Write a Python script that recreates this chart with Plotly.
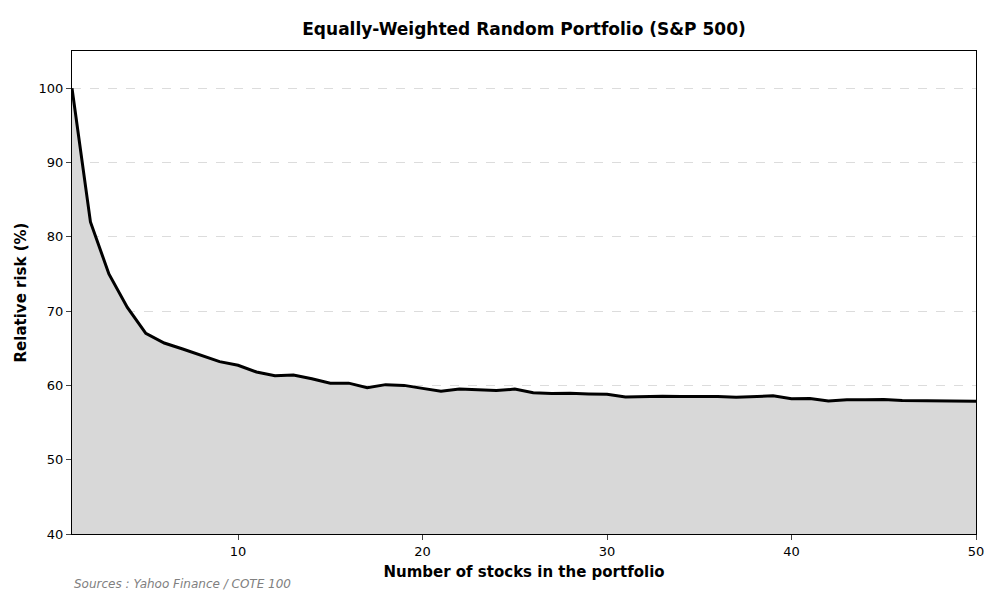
import plotly.graph_objects as go

n_stocks = list(range(1, 51))
relative_risk = [100, 82, 75, 70.5, 67, 65.7, 64.9, 64.1, 63.2, 62.7,
                 61.8, 61.3, 61.4, 60.9, 60.3, 60.3, 59.7, 60.1, 60.0, 59.6,
                 59.2, 59.5, 59.4, 59.3, 59.5, 59.0, 58.9, 58.95, 58.85, 58.8,
                 58.45, 58.55, 58.55, 58.5, 58.55, 58.5, 58.4, 58.5, 58.6, 58.2,
                 58.25, 57.9, 58.05, 58.05, 58.1, 57.95, 57.95, 57.9, 57.9, 57.85]

fig = go.Figure()
# grey band filled down to the bottom of the axis
fig.add_trace(go.Scatter(x=n_stocks, y=[40] * len(n_stocks), mode="lines",
                         line=dict(width=0), showlegend=False, hoverinfo="skip"))
fig.add_trace(go.Scatter(x=n_stocks, y=relative_risk, mode="lines",
                         line=dict(color="black", width=3),
                         fill="tonexty", fillcolor="#d8d8d8", showlegend=False))

fig.update_layout(
    width=1000, height=600,
    paper_bgcolor="white", plot_bgcolor="white",
    margin=dict(l=64, r=32, t=43, b=74),
    font=dict(family="DejaVu Sans", size=13, color="black"),
    title=dict(text="<b>Equally-Weighted Random Portfolio (S&P 500)</b>",
               x=0.516, xanchor="center", y=0.975, font=dict(size=17)),
    xaxis=dict(range=[1, 50], tickvals=[10, 20, 30, 40, 50], showgrid=False,
               showline=True, linecolor="black", mirror=True, ticks="outside",
               title=dict(text="<b>Number of stocks in the portfolio</b>", font=dict(size=15), standoff=8)),
    yaxis=dict(range=[40, 105], tickvals=[40, 50, 60, 70, 80, 90, 100],
               showgrid=True, gridcolor="#dcdcdc", griddash="dash",
               showline=True, linecolor="black", mirror=True, ticks="outside",
               title=dict(text="<b>Relative risk (%)</b>", font=dict(size=15), standoff=8)),
    annotations=[dict(text="<i>Sources : Yahoo Finance / COTE 100</i>", xref="paper", yref="paper",
                      x=0, y=-0.085, xanchor="left", yanchor="top", showarrow=False,
                      font=dict(size=12, color="gray"))],
)

fig.write_html("out.html")
